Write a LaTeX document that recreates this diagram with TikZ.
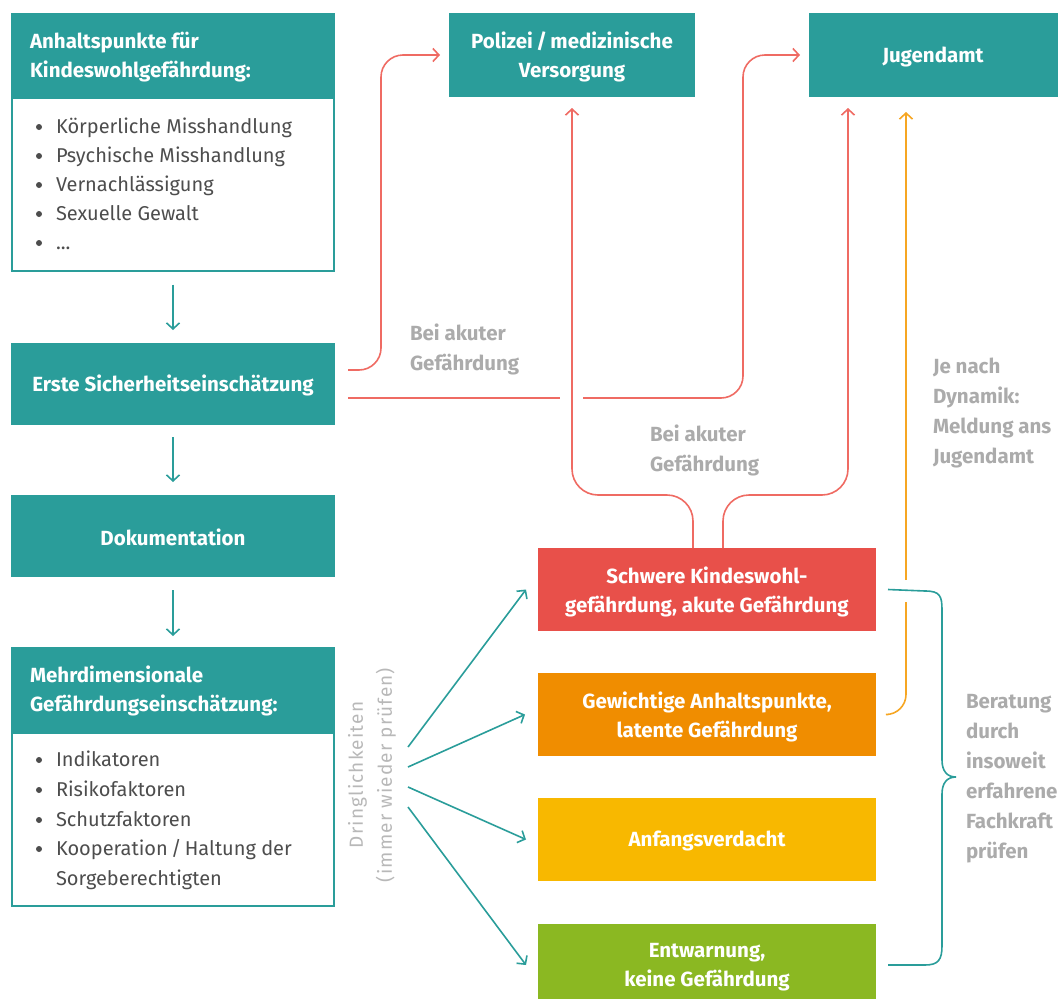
\documentclass[tikz,border=0pt]{standalone}
\usepackage{fontspec}
\setmainfont{Fira Sans}
\usetikzlibrary{arrows.meta}
\definecolor{tealc}{HTML}{2A9D9A}
\definecolor{redline}{HTML}{EF6B63}
\definecolor{redbox}{HTML}{E8504A}
\definecolor{orangebox}{HTML}{F08D00}
\definecolor{yellowbox}{HTML}{F8B800}
\definecolor{greenbox}{HTML}{8BB822}
\definecolor{orangeline}{HTML}{F6A623}
\definecolor{lblgray}{HTML}{ABABAB}
\definecolor{bodygray}{HTML}{4D4D4D}
\begin{document}
\begin{tikzpicture}[x=1pt,y=-1pt,
  every node/.style={inner sep=0pt, outer sep=0pt},
  hdr/.style={fill=tealc, minimum width=324pt, minimum height=84pt},
  hdrtext/.style={text=white, font=\bfseries\fontsize{20.5}{29.5}\selectfont, align=left},
  ctext/.style={text=white, font=\bfseries\fontsize{20.5}{29}\selectfont, align=center},
  listbox/.style={draw=tealc, line width=2pt, fill=white, minimum width=322pt, minimum height=173pt},
  item/.style={anchor=base west, text=bodygray, font=\fontsize{20}{29}\selectfont},
  dot/.style={circle, fill=bodygray, minimum size=6pt},
  lvlbox/.style={minimum width=338pt, minimum height=83pt},
  lbl/.style={text=lblgray, font=\bfseries\fontsize{20.5}{30}\selectfont, align=left},
  tarrow/.style={draw=tealc, line width=1.6pt, -{Straight Barb[length=6pt,width=13pt,line width=1.6pt]}},
  rarrow/.style={draw=redline, line width=1.6pt, -{Straight Barb[length=6pt,width=13pt,line width=1.6pt]}},
  rline/.style={draw=redline, line width=1.6pt},
  oarrow/.style={draw=orangeline, line width=1.6pt, -{Straight Barb[length=6pt,width=13pt,line width=1.6pt]}},
  oline/.style={draw=orangeline, line width=1.6pt},
  tline/.style={draw=tealc, line width=1.6pt}
]
\useasboundingbox (0,0) rectangle (1058,999);

% left column
\node[listbox] (L1) at (173,184) {};
\node[hdr] (H1) at (173,55) {};
\node[hdrtext, anchor=west] (H1t) at (30,57) {Anhaltspunkte für\\Kindeswohlgefährdung:};
\node[dot] (d11) at (39,127) {}; \node[item] (i11) at (56,133.5) {Körperliche Misshandlung};
\node[dot] (d12) at (39,156) {}; \node[item] (i12) at (56,162.5) {Psychische Misshandlung};
\node[dot] (d13) at (39,185) {}; \node[item] (i13) at (56,191.5) {Vernachlässigung};
\node[dot] (d14) at (39,214) {}; \node[item] (i14) at (56,220.5) {Sexuelle Gewalt};
\node[dot] (d15) at (39,243) {}; \node[item] (i15) at (56,249.5) {...};

\node[hdr, minimum height=82pt] (E) at (173,384) {};
\node[ctext] (Et) at (173,385) {Erste Sicherheitseinschätzung};

\node[hdr, minimum height=82pt] (D) at (173,536) {};
\node[ctext] (Dt) at (173,537) {Dokumentation};

\node[listbox] (L2) at (173,819) {};
\node[hdr, minimum height=86pt] (H2) at (173,690) {};
\node[hdrtext, anchor=west] (H2t) at (30,691) {Mehrdimensionale\\Gefährdungseinschätzung:};
\node[dot] (d21) at (39,760) {}; \node[item] (i21) at (56,766.5) {Indikatoren};
\node[dot] (d22) at (39,790) {}; \node[item] (i22) at (56,796.5) {Risikofaktoren};
\node[dot] (d23) at (39,820) {}; \node[item] (i23) at (56,826.5) {Schutzfaktoren};
\node[dot] (d24) at (39,849) {}; \node[item] (i24) at (56,855.5) {Kooperation\,/\,Haltung der};
\node[item] (i25) at (56,885.5) {Sorgeberechtigten};

% top boxes
\node[fill=tealc, minimum width=246pt, minimum height=84pt] (P) at (572,55) {};
\node[ctext] (Pt) at (572,57) {Polizei\,/\,medizinische\\Versorgung};
\node[fill=tealc, minimum width=249pt, minimum height=84pt] (J) at (933.5,55) {};
\node[ctext] (Jt) at (933,57) {Jugendamt};

% level boxes
\node[lvlbox, fill=redbox] (S) at (707,589.5) {};
\node[ctext] (St) at (707,592) {Schwere Kindeswohl-\\gefährdung, akute Gefährdung};
\node[lvlbox, fill=orangebox] (G) at (707,714.5) {};
\node[ctext] (Gt) at (707,717) {Gewichtige Anhaltspunkte,\\latente Gefährdung};
\node[lvlbox, fill=yellowbox] (A) at (707,839.5) {};
\node[ctext] (At) at (707,841) {Anfangsverdacht};
\node[lvlbox, fill=greenbox] (W) at (707,965) {};
\node[ctext] (Wt) at (707,967) {Entwarnung,\\keine Gefährdung};

% labels
\node[lbl, anchor=west] (la1) at (410,349) {Bei akuter\\Gefährdung};
\node[lbl, anchor=west] (la2) at (650,450) {Bei akuter\\Gefährdung};
\node[lbl, anchor=west] (ldyn) at (933,413) {Je nach\\Dynamik:\\Meldung ans\\Jugendamt};
\node[lbl, anchor=west] (lber) at (966,779) {Beratung\\durch\\insoweit\\erfahrene\\Fachkraft\\prüfen};
\node[text=lblgray!85, font=\fontsize{19}{29}\selectfont\addfontfeature{LetterSpace=6}, align=center, rotate=90] (ldr) at (372,775) {Dringlichkeiten\\(immer wieder prüfen)};

% down arrows
\draw[tarrow] ([yshift=-14pt]L1.south) -- ([yshift=13pt]E.north);
\draw[tarrow] ([yshift=-12pt]E.south) -- ([yshift=13pt]D.north);
\draw[tarrow] ([yshift=-13pt]D.south) -- ([yshift=11pt]H2.north);

% helper coordinates
\coordinate (hy) at (0,495);
\coordinate (gapL) at (560,398);
\coordinate (gapR) at (583,398);
\coordinate (jr) at ([xshift=-85.5pt]J.south);
\coordinate (jo) at ([xshift=-27.5pt]J.south);
\coordinate (og1) at (0,602);
\coordinate (og2) at (0,580);
\coordinate (f1) at (408,747);
\coordinate (f2) at (408,767);
\coordinate (f3) at (408,787);
\coordinate (f4) at (408,807);

% red connectors
\draw[rarrow, rounded corners=22pt] ([xshift=13pt,yshift=14pt]E.east) -| ([xshift=-68pt]P.west) -- ([xshift=-9pt]P.west);
\draw[rline] ([xshift=13pt,yshift=-14pt]E.east) -- (gapL);
\draw[rarrow, rounded corners=22pt] (gapR) -| ([xshift=-66pt]J.west) -- ([xshift=-9pt]J.west);
\draw[rarrow, rounded corners=26pt] ([xshift=-14pt]S.north) |- (P.south |- hy) -- ([yshift=-11pt]P.south);
\draw[rarrow, rounded corners=26pt] ([xshift=16pt]S.north) |- (jr |- hy) -- ([yshift=-11pt]jr);

% orange connector
\draw[oline, rounded corners=20pt] ([xshift=12pt]G.east) -| (jo |- og1);
\draw[oarrow] (jo |- og2) -- ([yshift=-15pt]jo);

% teal fan
\draw[tarrow] (f1) -- ([xshift=-12pt]S.west);
\draw[tarrow] (f2) -- ([xshift=-13pt]G.west);
\draw[tarrow] (f3) -- ([xshift=-12pt]A.west);
\draw[tarrow] (f4) -- ([xshift=-12pt]W.west);

% bracket
\draw[tline] ([xshift=12pt]S.east) -- (925,591) .. controls (940,591) and (942,596) .. (942,610) -- (942,760) .. controls (942,771) and (947,777) .. (956,777) .. controls (947,777) and (942,783) .. (942,794) -- (942,946) .. controls (942,960) and (938,965) .. (925,965) -- ([xshift=12pt]W.east);
\end{tikzpicture}
\end{document}
